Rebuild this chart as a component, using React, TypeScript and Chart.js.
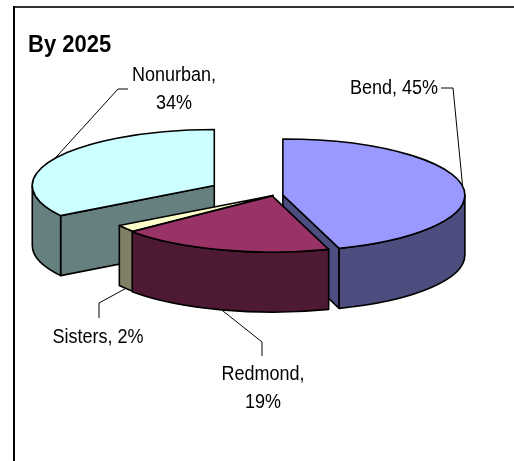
import React, { useEffect, useRef } from "react";
import { Chart, registerables } from "chart.js";

Chart.register(...registerables);

// ---- data ----
const TITLE = "By 2025";
const categories = ["Bend", "Redmond", "Sisters", "Nonurban"];
const shares = [45, 19, 2, 34];
const topColors = ["#9999FF", "#993366", "#FFFFCC", "#CCFFFF"];
const sideColors = ["#4D4D80", "#4D1933", "#808066", "#668080"];
const explode = [10, 2, 0, 67];

// ---- 3D look ----
const RADIUS = 182;
const TILT = 0.308;
const DEPTH = 60;
const DRAW_ORDER = [3, 0, 2, 1];
const FONT = "'Liberation Sans', Arial, sans-serif";

// label layout (per slice, same order as categories)
type LabelLayout = {
  split: boolean;
  align: CanvasTextAlign;
  x: number;
  baselines: number[];
  elbow: [number, number][];
};
const LABEL_LAYOUT: LabelLayout[] = [
  { split: false, align: "left", x: 350, baselines: [94], elbow: [[441, 88], [453, 88]] },
  { split: true, align: "center", x: 263, baselines: [380, 408], elbow: [[262, 356], [262, 342]] },
  { split: false, align: "center", x: 98, baselines: [343], elbow: [[99, 318], [99, 303]] },
  { split: true, align: "center", x: 174, baselines: [81, 109], elbow: [[128, 89], [118, 89]] },
];

function wallIntervals(s: number, e: number): [number, number][] {
  const out: [number, number][] = [];
  for (let k = -2; k <= 2; k++) {
    const lo = Math.max(s, 2 * Math.PI * k);
    const hi = Math.min(e, 2 * Math.PI * k + Math.PI);
    if (hi > lo + 1e-6) out.push([lo, hi]);
  }
  return out;
}

function stretchedText(ctx: CanvasRenderingContext2D, t: string, x: number, y: number, sy: number) {
  ctx.save();
  ctx.translate(x, y);
  ctx.scale(1, sy);
  ctx.fillText(t, 0, 0);
  ctx.restore();
}

const pie3d = {
  id: "pie3d",
  beforeDraw(chart: any) {
    const ctx: CanvasRenderingContext2D = chart.ctx;
    ctx.save();
    ctx.fillStyle = "#ffffff";
    ctx.fillRect(0, 0, chart.width, chart.height);
    // frame
    ctx.lineWidth = 2;
    ctx.strokeStyle = "#333333";
    ctx.beginPath();
    ctx.moveTo(13, 7);
    ctx.lineTo(chart.width, 7);
    ctx.stroke();
    ctx.strokeStyle = "#000000";
    ctx.beginPath();
    ctx.moveTo(14, 6);
    ctx.lineTo(14, chart.height);
    ctx.stroke();
    // title
    ctx.fillStyle = "#000";
    ctx.font = `bold 22px ${FONT}`;
    ctx.textAlign = "left";
    ctx.textBaseline = "alphabetic";
    stretchedText(ctx, TITLE, 28, 52, 1.08);
    ctx.restore();
  },
  beforeDatasetsDraw(chart: any) {
    const ctx: CanvasRenderingContext2D = chart.ctx;
    const meta = chart.getDatasetMeta(0);
    const geo = meta.data.map((el: any) => {
      const p = el.getProps(["x", "y", "startAngle", "endAngle", "outerRadius"], true);
      const d = (el.options && el.options.offset) || 0;
      const mid = (p.startAngle + p.endAngle) / 2;
      return {
        cx: p.x + Math.cos(mid) * d,
        cy: p.y + Math.sin(mid) * d * TILT,
        r: p.outerRadius,
        ry: p.outerRadius * TILT,
        s: p.startAngle,
        e: p.endAngle,
        mid,
      };
    });

    ctx.save();
    ctx.lineWidth = 1.6;
    ctx.strokeStyle = "#000";
    ctx.lineJoin = "round";
    for (const i of DRAW_ORDER) {
      const g = geo[i];
      if (!g) continue;
      const { cx, cy, r, ry, s, e } = g;
      const wall = (a: number) => {
        const x = cx + r * Math.cos(a);
        const y = cy + ry * Math.sin(a);
        ctx.beginPath();
        ctx.moveTo(cx, cy);
        ctx.lineTo(x, y);
        ctx.lineTo(x, y + DEPTH);
        ctx.lineTo(cx, cy + DEPTH);
        ctx.closePath();
        ctx.fillStyle = sideColors[i];
        ctx.fill();
        ctx.stroke();
      };
      if (Math.cos(s) < -1e-6) wall(s);
      if (Math.cos(e) > 1e-6) wall(e);
      for (const [a0, a1] of wallIntervals(s, e)) {
        ctx.beginPath();
        ctx.ellipse(cx, cy, r, ry, 0, a0, a1, false);
        ctx.lineTo(cx + r * Math.cos(a1), cy + ry * Math.sin(a1) + DEPTH);
        ctx.ellipse(cx, cy + DEPTH, r, ry, 0, a1, a0, true);
        ctx.closePath();
        ctx.fillStyle = sideColors[i];
        ctx.fill();
        ctx.stroke();
      }
      ctx.beginPath();
      ctx.moveTo(cx, cy);
      ctx.ellipse(cx, cy, r, ry, 0, s, e, false);
      ctx.closePath();
      ctx.fillStyle = topColors[i];
      ctx.fill();
      ctx.stroke();
    }

    // labels + leader lines
    ctx.lineWidth = 1;
    ctx.strokeStyle = "#000";
    ctx.fillStyle = "#000";
    ctx.font = `18px ${FONT}`;
    ctx.textBaseline = "alphabetic";
    geo.forEach((g: any, i: number) => {
      const L = LABEL_LAYOUT[i];
      if (!L) return;
      const a = g.mid;
      const px = g.cx + g.r * Math.cos(a);
      const py = g.cy + g.ry * Math.sin(a) + (Math.sin(a) > 0 ? DEPTH : 0);
      ctx.beginPath();
      ctx.moveTo(L.elbow[0][0], L.elbow[0][1]);
      for (let k = 1; k < L.elbow.length; k++) ctx.lineTo(L.elbow[k][0], L.elbow[k][1]);
      ctx.lineTo(px, py);
      ctx.stroke();
      const lines = L.split
        ? [`${categories[i]},`, `${shares[i]}%`]
        : [`${categories[i]}, ${shares[i]}%`];
      ctx.textAlign = L.align;
      lines.forEach((t, k) => stretchedText(ctx, t, L.x, L.baselines[k], 1.16));
    });
    ctx.restore();
    return false;
  },
};

export default function App() {
  const ref = useRef<HTMLCanvasElement | null>(null);
  useEffect(() => {
    if (!ref.current) return;
    const chart = new Chart(ref.current, {
      type: "pie",
      data: {
        labels: categories,
        datasets: [
          {
            data: shares,
            backgroundColor: topColors,
            borderColor: "#000",
            offset: explode,
          },
        ],
      },
      options: {
        animation: false,
        responsive: false,
        radius: RADIUS,
        layout: { padding: { left: 32, right: 0, top: 0, bottom: 70 } },
        plugins: {
          legend: { display: false },
          title: { display: false },
          tooltip: { enabled: false },
        },
        events: [],
      } as any,
      plugins: [pie3d as any],
    });
    return () => chart.destroy();
  }, []);
  return (
    <div style={{ position: "absolute", left: 0, top: 0, width: 514, height: 461 }}>
      <canvas ref={ref} width={514} height={461} style={{ display: "block" }} />
    </div>
  );
}
